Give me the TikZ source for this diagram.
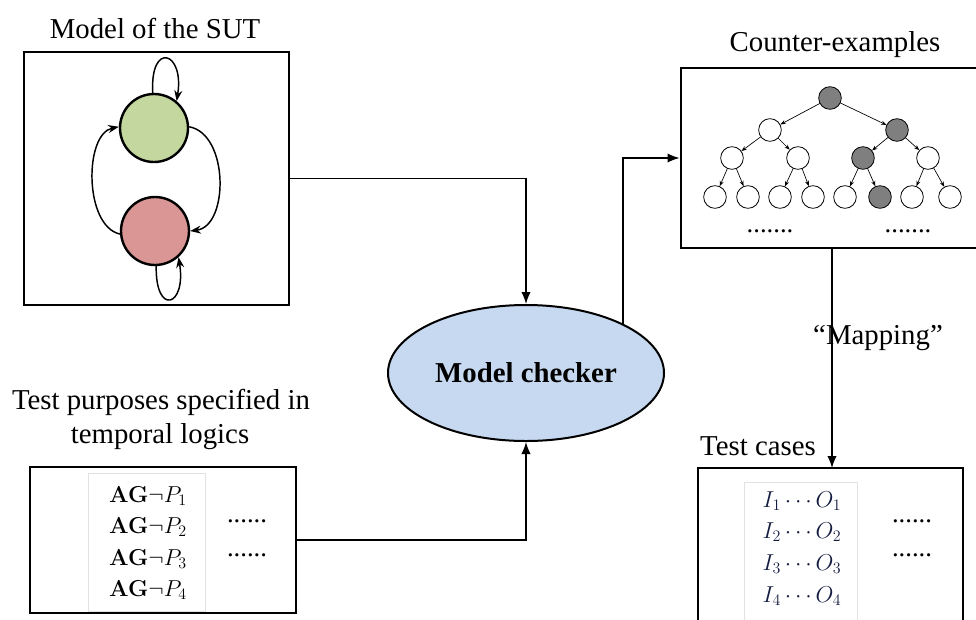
\documentclass[tikz,border=0pt]{standalone}
\usepackage[no-math]{fontspec}
\setmainfont{Liberation Serif}
\usetikzlibrary{arrows.meta,shapes.geometric,fit}
\definecolor{stgreen}{HTML}{C4D79E}
\definecolor{stred}{HTML}{D99694}
\definecolor{mcblue}{HTML}{C6D9F0}
\definecolor{treegray}{HTML}{7F7F7F}
\definecolor{imgborder}{HTML}{E2E2E2}
\definecolor{navytext}{HTML}{141C40}
\tikzset{
  bigbox/.style={draw, line width=2.2pt, inner sep=0pt},
  imgbox/.style={draw=imgborder, line width=0.5pt, inner sep=0pt},
  title/.style={font=\fontsize{21.6}{26}\selectfont, inner sep=0pt},
  dotstext/.style={font=\fontsize{20}{24}\selectfont, inner sep=0pt},
  state/.style={circle, draw, line width=1.8pt, minimum size=51pt, inner sep=0pt},
  loopline/.style={line width=1.1pt, -{Stealth[length=8pt,width=6pt]}},
  conn/.style={line width=1pt, -{Latex[length=9pt,width=7pt]}},
  tnode/.style={circle, draw, line width=0.6pt, minimum size=17pt, inner sep=0pt, fill=white},
  tgray/.style={tnode, fill=treegray},
  tedge/.style={line width=0.5pt, -{Stealth[length=4pt,width=3pt]}},
  formula/.style={font=\fontsize{17}{22}\selectfont, inner sep=0pt, anchor=center},
}
\begin{document}
\begin{tikzpicture}[x=0.75pt,y=-0.75pt]
\useasboundingbox (0,0) rectangle (976,619);

% ---------- Model of the SUT ----------
\node[title] (sutt) at (155,28) {Model of the SUT};
\node[bigbox, fit={(24,52) (289,305)}] (sut) {};
\node[state, fill=stgreen] (g) at (154,128) {};
\node[state, fill=stred] (r) at (155,231) {};
\draw[loopline] (g.92) .. controls +(-3,-52) and +(8,-50) .. (g.50);
\draw[loopline] (r.-88) .. controls +(-1,50) and +(8,50) .. (r.-48);
\draw[loopline] (r.185) .. controls (84,226) and (84,134) .. (g.178);
\draw[loopline] (g.2) .. controls (229,134) and (229,226) .. (r.0);

% ---------- Counter-examples ----------
\node[title] (cet) at (835,45) {Counter-examples};
\node[bigbox, fit={(681,68) (980,248)}] (ce) {};
\node[tgray] (t1) at (830,98) {};
\node[tnode] (t2a) at (770,130) {};
\node[tgray] (t2b) at (897,130) {};
\node[tnode] (t3a) at (732,158) {};
\node[tnode] (t3b) at (798,158) {};
\node[tgray] (t3c) at (863,158) {};
\node[tnode] (t3d) at (928,158) {};
\node[tnode] (t4a) at (715,197) {};
\node[tnode] (t4b) at (748,197) {};
\node[tnode] (t4c) at (780,197) {};
\node[tnode] (t4d) at (813,197) {};
\node[tnode] (t4e) at (845,197) {};
\node[tgray] (t4f) at (880,197) {};
\node[tnode] (t4g) at (912,197) {};
\node[tnode] (t4h) at (950,197) {};
\foreach \p/\c in {t1/t2a,t1/t2b,t2a/t3a,t2a/t3b,t2b/t3c,t2b/t3d,
  t3a/t4a,t3a/t4b,t3b/t4c,t3b/t4d,t3c/t4e,t3c/t4f,t3d/t4g,t3d/t4h}
  \draw[tedge] (\p) -- (\c);
\node[dotstext] (ced1) at (770,231) {.......};
\node[dotstext] (ced2) at (908,231) {.......};

% ---------- Model checker ----------
\node[ellipse, draw, line width=1.5pt, fill=mcblue, minimum width=207pt, minimum height=102pt, inner sep=0pt]
  (mc) at (526,373) {\fontsize{21.6}{26}\selectfont\bfseries Model checker};

% ---------- Test purposes ----------
\node[title] (tpt1) at (161,402) {Test purposes specified in};
\node[title] (tpt2) at (160,437) {temporal logics};
\node[bigbox, fit={(30,467) (296,613)}] (tp) {};
\node[imgbox, fit={(88,473) (205,611)}] (tpimg) {};
\node[formula] (f1) at (148,496) {$\mathbf{AG}\neg P_1$};
\node[formula] (f2) at (148,527) {$\mathbf{AG}\neg P_2$};
\node[formula] (f3) at (148,559) {$\mathbf{AG}\neg P_3$};
\node[formula] (f4) at (148,590) {$\mathbf{AG}\neg P_4$};
\node[dotstext] (tpd1) at (247,521) {......};
\node[dotstext] (tpd2) at (247,555) {......};

% ---------- Test cases ----------
\node[title] (tct) at (758,446) {Test cases};
\node[bigbox, fit={(698,468) (963,632)}] (tc) {};
\node[imgbox, fit={(744,482) (857,632)}] (tcimg) {};
\node[formula, text=navytext] (c1) at (802,501) {$I_1\cdots O_1$};
\node[formula, text=navytext] (c2) at (802,532) {$I_2\cdots O_2$};
\node[formula, text=navytext] (c3) at (802,564) {$I_3\cdots O_3$};
\node[formula, text=navytext] (c4) at (802,596) {$I_4\cdots O_4$};
\node[dotstext] (tcd1) at (912,521) {......};
\node[dotstext] (tcd2) at (912,555) {......};

% ---------- Connectors ----------
\draw[conn] (sut.east) -| (mc.north);
\draw[conn] (tp.east) -| (mc.south);
\draw[conn] (mc.27) |- (ce.west);
\draw[conn] (ce.south -| 832,0) -- (832,468) coordinate (tcin);
\node[title] (map) at (878,338) {``Mapping''};
\end{tikzpicture}
\end{document}
